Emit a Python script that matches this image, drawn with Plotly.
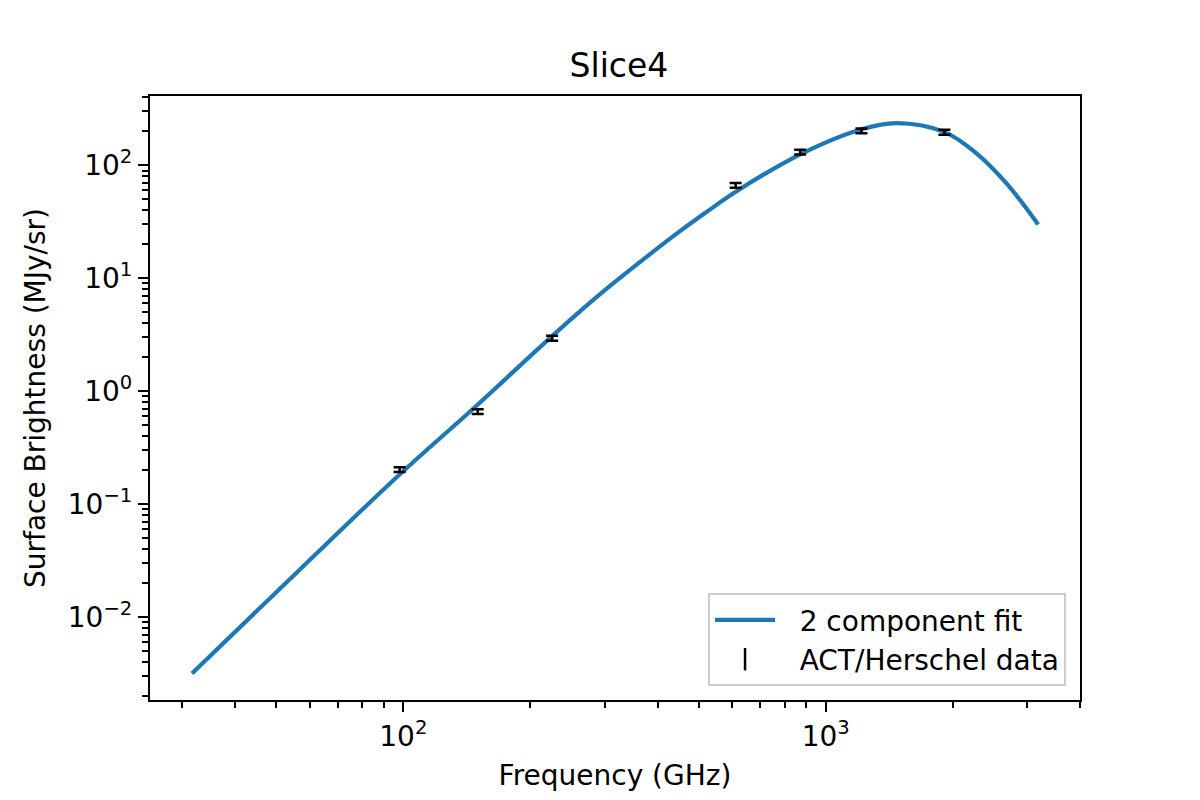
import plotly.graph_objects as go

# ---- data ----
fit_freq = [31.6, 56.2, 97.3, 149, 210.7, 252.7, 303, 363, 435, 522, 615, 873, 1216, 1472, 1914, 2278, 2682, 3184]
fit_flux = [0.00318, 0.0253, 0.179, 0.745, 2.46, 4.53, 8.09, 13.9, 23.5, 38.6, 59, 126, 209, 237, 197, 127, 68.8, 30.0]

data_freq = [98, 150, 225, 612, 870, 1215, 1910]
data_flux = [0.203, 0.662, 2.95, 66.6, 131, 202, 197]
data_err = [0.010, 0.033, 0.15, 3.3, 6.5, 10, 10]

x_tickvals = [100, 1000]
x_ticktext = ["10<sup>2</sup>", "10<sup>3</sup>"]
y_tickvals = [0.01, 0.1, 1, 10, 100]
y_ticktext = ["10<sup>\u22122</sup>", "10<sup>\u22121</sup>", "10<sup>0</sup>", "10<sup>1</sup>", "10<sup>2</sup>"]

x_minor = [m * 10 ** e for e in (1, 2, 3) for m in range(2, 10)]
y_minor = [m * 10 ** e for e in (-3, -2, -1, 0, 1, 2) for m in range(2, 10)]

FONT = "DejaVu Sans"
BLUE = "#1f77b4"
FS = 28
GAP = "\u2002\u2009"

fig = go.Figure()

fig.add_trace(go.Scatter(
    x=fit_freq, y=fit_flux, mode="lines", name=GAP + "2 component fit",
    line=dict(color=BLUE, width=4.2, shape="spline", smoothing=1.0),
))

fig.add_trace(go.Scatter(
    x=data_freq, y=data_flux, mode="markers", showlegend=False,
    marker=dict(size=1, color="rgba(0,0,0,0)"),
    error_y=dict(type="data", array=data_err, visible=True, color="black",
                 thickness=2.5, width=6),
))

# legend-only entry for the error-bar data
fig.add_trace(go.Scatter(
    x=[None], y=[None], mode="markers", name=GAP + "ACT/Herschel data",
    marker=dict(symbol="line-ns", size=30, color="black",
                line=dict(color="black", width=2.5)),
))

axis_common = dict(
    type="log", showgrid=False, zeroline=False,
    showline=True, linecolor="black", linewidth=2.2, mirror=True,
    ticks="outside", ticklen=10, tickwidth=2.2, tickcolor="black",
    tickfont=dict(family=FONT, size=FS, color="black"),
)

fig.update_xaxes(
    **axis_common,
    range=[1.4003, 3.602],
    tickvals=x_tickvals, ticktext=x_ticktext,
    minor=dict(tickvals=x_minor, ticks="outside", ticklen=6, tickwidth=1.6, tickcolor="black", showgrid=False),
    title=dict(text="Frequency (GHz)", font=dict(family=FONT, size=FS, color="black"), standoff=14),
)
fig.update_yaxes(
    **axis_common,
    range=[-2.733, 2.614],
    tickvals=y_tickvals, ticktext=y_ticktext,
    minor=dict(tickvals=y_minor, ticks="outside", ticklen=6, tickwidth=1.6, tickcolor="black", showgrid=False),
    title=dict(text="Surface Brightness (MJy/sr)", font=dict(family=FONT, size=FS, color="black"), standoff=14),
)

fig.update_layout(
    width=1192, height=792,
    margin=dict(l=142, r=120, t=88, b=100),
    paper_bgcolor="white", plot_bgcolor="white",
    title=dict(text="Slice4", x=0.5125, xanchor="center", y=0.927, yanchor="middle",
               font=dict(family=FONT, size=33, color="black")),
    font=dict(family=FONT, color="black"),
    legend=dict(
        x=0.985, xanchor="right", y=0.023, yanchor="bottom",
        bgcolor="rgba(255,255,255,0.8)", bordercolor="#cccccc", borderwidth=2,
        font=dict(family=FONT, size=FS, color="black"),
        itemwidth=60, itemsizing="trace",
    ),
    showlegend=True,
)

fig.write_html("out.html")
